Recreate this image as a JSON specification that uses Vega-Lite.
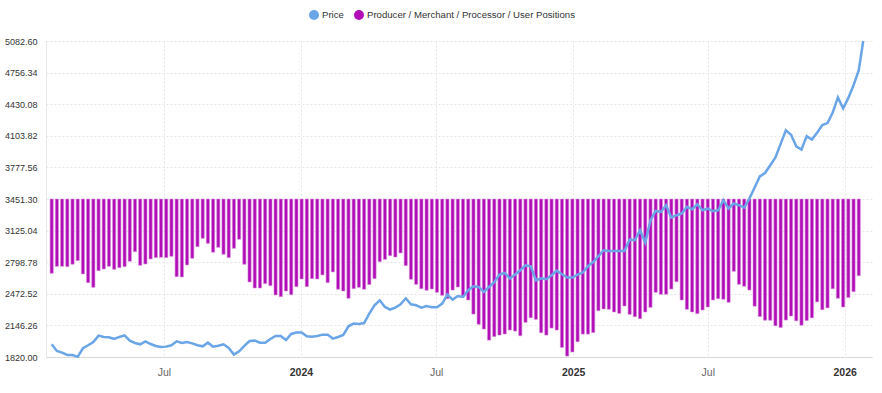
{
  "$schema": "https://vega.github.io/schema/vega-lite/v6.json",
  "width": 826,
  "height": 316,
  "autosize": "none",
  "padding": {"left": 46, "top": 41, "right": 10, "bottom": 36},
  "background": "white",
  "config": {
    "font": "Liberation Sans",
    "view": {"stroke": null}
  },
  "datasets": {
    "cot": [
      {"date": "2023-01-31", "net": -767}, {"date": "2023-02-07", "net": -695}, {"date": "2023-02-14", "net": -695}, {"date": "2023-02-21", "net": -698},
      {"date": "2023-02-28", "net": -674}, {"date": "2023-03-07", "net": -636}, {"date": "2023-03-14", "net": -774}, {"date": "2023-03-21", "net": -864},
      {"date": "2023-03-28", "net": -912}, {"date": "2023-04-04", "net": -740}, {"date": "2023-04-11", "net": -723}, {"date": "2023-04-18", "net": -695},
      {"date": "2023-04-25", "net": -726}, {"date": "2023-05-02", "net": -709}, {"date": "2023-05-09", "net": -698}, {"date": "2023-05-16", "net": -643},
      {"date": "2023-05-23", "net": -544}, {"date": "2023-05-30", "net": -685}, {"date": "2023-06-06", "net": -671}, {"date": "2023-06-13", "net": -619},
      {"date": "2023-06-20", "net": -605}, {"date": "2023-06-27", "net": -602}, {"date": "2023-07-04", "net": -605}, {"date": "2023-07-11", "net": -592},
      {"date": "2023-07-18", "net": -802}, {"date": "2023-07-25", "net": -805}, {"date": "2023-08-01", "net": -681}, {"date": "2023-08-08", "net": -612},
      {"date": "2023-08-15", "net": -492}, {"date": "2023-08-22", "net": -406}, {"date": "2023-08-29", "net": -458}, {"date": "2023-09-05", "net": -550},
      {"date": "2023-09-12", "net": -499}, {"date": "2023-09-19", "net": -571}, {"date": "2023-09-26", "net": -605}, {"date": "2023-10-03", "net": -509},
      {"date": "2023-10-10", "net": -416}, {"date": "2023-10-17", "net": -674}, {"date": "2023-10-24", "net": -857}, {"date": "2023-10-31", "net": -919},
      {"date": "2023-11-07", "net": -919}, {"date": "2023-11-14", "net": -874}, {"date": "2023-11-21", "net": -895}, {"date": "2023-11-28", "net": -991},
      {"date": "2023-12-05", "net": -1008}, {"date": "2023-12-12", "net": -950}, {"date": "2023-12-19", "net": -988}, {"date": "2023-12-26", "net": -905},
      {"date": "2024-01-02", "net": -826}, {"date": "2024-01-09", "net": -905}, {"date": "2024-01-16", "net": -822}, {"date": "2024-01-23", "net": -826},
      {"date": "2024-01-30", "net": -784}, {"date": "2024-02-06", "net": -864}, {"date": "2024-02-13", "net": -753}, {"date": "2024-02-20", "net": -932},
      {"date": "2024-02-27", "net": -950}, {"date": "2024-03-05", "net": -1025}, {"date": "2024-03-12", "net": -926}, {"date": "2024-03-19", "net": -912},
      {"date": "2024-03-26", "net": -932}, {"date": "2024-04-02", "net": -884}, {"date": "2024-04-09", "net": -822}, {"date": "2024-04-16", "net": -647},
      {"date": "2024-04-23", "net": -623}, {"date": "2024-04-30", "net": -585}, {"date": "2024-05-07", "net": -599}, {"date": "2024-05-14", "net": -557},
      {"date": "2024-05-21", "net": -688}, {"date": "2024-05-28", "net": -829}, {"date": "2024-06-04", "net": -881}, {"date": "2024-06-11", "net": -926},
      {"date": "2024-06-18", "net": -943}, {"date": "2024-06-25", "net": -929}, {"date": "2024-07-02", "net": -964}, {"date": "2024-07-09", "net": -995},
      {"date": "2024-07-16", "net": -1029}, {"date": "2024-07-23", "net": -940}, {"date": "2024-07-30", "net": -909}, {"date": "2024-08-06", "net": -1002},
      {"date": "2024-08-13", "net": -1043}, {"date": "2024-08-20", "net": -1188}, {"date": "2024-08-27", "net": -1294}, {"date": "2024-09-03", "net": -1343},
      {"date": "2024-09-10", "net": -1457}, {"date": "2024-09-17", "net": -1420}, {"date": "2024-09-24", "net": -1405}, {"date": "2024-10-01", "net": -1394},
      {"date": "2024-10-08", "net": -1353}, {"date": "2024-10-15", "net": -1364}, {"date": "2024-10-22", "net": -1412}, {"date": "2024-10-29", "net": -1274},
      {"date": "2024-11-05", "net": -1226}, {"date": "2024-11-12", "net": -1243}, {"date": "2024-11-19", "net": -1381}, {"date": "2024-11-26", "net": -1405},
      {"date": "2024-12-03", "net": -1333}, {"date": "2024-12-10", "net": -1353}, {"date": "2024-12-17", "net": -1532}, {"date": "2024-12-24", "net": -1622},
      {"date": "2024-12-31", "net": -1580}, {"date": "2025-01-07", "net": -1474}, {"date": "2025-01-14", "net": -1395}, {"date": "2025-01-21", "net": -1395},
      {"date": "2025-01-28", "net": -1379}, {"date": "2025-02-04", "net": -1153}, {"date": "2025-02-11", "net": -1136}, {"date": "2025-02-18", "net": -1139},
      {"date": "2025-02-25", "net": -1167}, {"date": "2025-03-04", "net": -1181}, {"date": "2025-03-11", "net": -1105}, {"date": "2025-03-18", "net": -1191},
      {"date": "2025-03-25", "net": -1215}, {"date": "2025-04-01", "net": -1236}, {"date": "2025-04-08", "net": -1167}, {"date": "2025-04-15", "net": -1119},
      {"date": "2025-04-22", "net": -964}, {"date": "2025-04-29", "net": -984}, {"date": "2025-05-06", "net": -984}, {"date": "2025-05-13", "net": -930},
      {"date": "2025-05-20", "net": -854}, {"date": "2025-05-27", "net": -1043}, {"date": "2025-06-03", "net": -1139}, {"date": "2025-06-10", "net": -1167},
      {"date": "2025-06-17", "net": -1184}, {"date": "2025-06-24", "net": -1146}, {"date": "2025-07-01", "net": -1115}, {"date": "2025-07-08", "net": -1043},
      {"date": "2025-07-15", "net": -1029}, {"date": "2025-07-22", "net": -1036}, {"date": "2025-07-29", "net": -1067}, {"date": "2025-08-05", "net": -747},
      {"date": "2025-08-12", "net": -881}, {"date": "2025-08-19", "net": -901}, {"date": "2025-08-26", "net": -940}, {"date": "2025-09-02", "net": -1107},
      {"date": "2025-09-09", "net": -1213}, {"date": "2025-09-16", "net": -1252}, {"date": "2025-09-23", "net": -1252}, {"date": "2025-09-30", "net": -1309},
      {"date": "2025-10-07", "net": -1327}, {"date": "2025-10-14", "net": -1250}, {"date": "2025-10-21", "net": -1208}, {"date": "2025-10-28", "net": -1258},
      {"date": "2025-11-04", "net": -1304}, {"date": "2025-11-11", "net": -1255}, {"date": "2025-11-18", "net": -1227}, {"date": "2025-11-25", "net": -1062},
      {"date": "2025-12-02", "net": -1143}, {"date": "2025-12-09", "net": -1124}, {"date": "2025-12-16", "net": -927}, {"date": "2025-12-23", "net": -1025},
      {"date": "2025-12-30", "net": -1115}, {"date": "2026-01-06", "net": -1017}, {"date": "2026-01-13", "net": -957}, {"date": "2026-01-20", "net": -792}
    ],
    "price": [
      {"date": "2023-01-31", "price": 1951}, {"date": "2023-02-07", "price": 1882}, {"date": "2023-02-14", "price": 1865}, {"date": "2023-02-21", "price": 1841},
      {"date": "2023-02-28", "price": 1841}, {"date": "2023-03-07", "price": 1822}, {"date": "2023-03-14", "price": 1910}, {"date": "2023-03-21", "price": 1941},
      {"date": "2023-03-28", "price": 1975}, {"date": "2023-04-04", "price": 2041}, {"date": "2023-04-11", "price": 2027}, {"date": "2023-04-18", "price": 2024},
      {"date": "2023-04-25", "price": 2006}, {"date": "2023-05-02", "price": 2027}, {"date": "2023-05-09", "price": 2044}, {"date": "2023-05-16", "price": 1989},
      {"date": "2023-05-23", "price": 1965}, {"date": "2023-05-30", "price": 1951}, {"date": "2023-06-06", "price": 1982}, {"date": "2023-06-13", "price": 1954},
      {"date": "2023-06-20", "price": 1934}, {"date": "2023-06-27", "price": 1923}, {"date": "2023-07-04", "price": 1927}, {"date": "2023-07-11", "price": 1941},
      {"date": "2023-07-18", "price": 1982}, {"date": "2023-07-25", "price": 1965}, {"date": "2023-08-01", "price": 1975}, {"date": "2023-08-08", "price": 1961},
      {"date": "2023-08-15", "price": 1941}, {"date": "2023-08-22", "price": 1930}, {"date": "2023-08-29", "price": 1968}, {"date": "2023-09-05", "price": 1927},
      {"date": "2023-09-12", "price": 1937}, {"date": "2023-09-19", "price": 1951}, {"date": "2023-09-26", "price": 1913}, {"date": "2023-10-03", "price": 1845},
      {"date": "2023-10-10", "price": 1879}, {"date": "2023-10-17", "price": 1934}, {"date": "2023-10-24", "price": 1985}, {"date": "2023-10-31", "price": 1989},
      {"date": "2023-11-07", "price": 1968}, {"date": "2023-11-14", "price": 1968}, {"date": "2023-11-21", "price": 2006}, {"date": "2023-11-28", "price": 2037},
      {"date": "2023-12-05", "price": 2037}, {"date": "2023-12-12", "price": 1996}, {"date": "2023-12-19", "price": 2058}, {"date": "2023-12-26", "price": 2072},
      {"date": "2024-01-02", "price": 2072}, {"date": "2024-01-09", "price": 2034}, {"date": "2024-01-16", "price": 2030}, {"date": "2024-01-23", "price": 2037},
      {"date": "2024-01-30", "price": 2051}, {"date": "2024-02-06", "price": 2051}, {"date": "2024-02-13", "price": 2010}, {"date": "2024-02-20", "price": 2027},
      {"date": "2024-02-27", "price": 2047}, {"date": "2024-03-05", "price": 2137}, {"date": "2024-03-12", "price": 2165}, {"date": "2024-03-19", "price": 2161},
      {"date": "2024-03-26", "price": 2171}, {"date": "2024-04-02", "price": 2268}, {"date": "2024-04-09", "price": 2354}, {"date": "2024-04-16", "price": 2406},
      {"date": "2024-04-23", "price": 2337}, {"date": "2024-04-30", "price": 2310}, {"date": "2024-05-07", "price": 2330}, {"date": "2024-05-14", "price": 2364},
      {"date": "2024-05-21", "price": 2426}, {"date": "2024-05-28", "price": 2364}, {"date": "2024-06-04", "price": 2354}, {"date": "2024-06-11", "price": 2330},
      {"date": "2024-06-18", "price": 2347}, {"date": "2024-06-25", "price": 2334}, {"date": "2024-07-02", "price": 2334}, {"date": "2024-07-09", "price": 2371},
      {"date": "2024-07-16", "price": 2465}, {"date": "2024-07-23", "price": 2413}, {"date": "2024-07-30", "price": 2450}, {"date": "2024-08-06", "price": 2440},
      {"date": "2024-08-13", "price": 2509}, {"date": "2024-08-20", "price": 2550}, {"date": "2024-08-27", "price": 2543}, {"date": "2024-09-03", "price": 2491},
      {"date": "2024-09-10", "price": 2543}, {"date": "2024-09-17", "price": 2592}, {"date": "2024-09-24", "price": 2671}, {"date": "2024-10-01", "price": 2688},
      {"date": "2024-10-08", "price": 2630}, {"date": "2024-10-15", "price": 2671}, {"date": "2024-10-22", "price": 2716}, {"date": "2024-10-29", "price": 2767},
      {"date": "2024-11-05", "price": 2757}, {"date": "2024-11-12", "price": 2612}, {"date": "2024-11-19", "price": 2633}, {"date": "2024-11-26", "price": 2623},
      {"date": "2024-12-03", "price": 2664}, {"date": "2024-12-10", "price": 2712}, {"date": "2024-12-17", "price": 2674}, {"date": "2024-12-24", "price": 2640},
      {"date": "2024-12-31", "price": 2640}, {"date": "2025-01-07", "price": 2671}, {"date": "2025-01-14", "price": 2692}, {"date": "2025-01-21", "price": 2757},
      {"date": "2025-01-28", "price": 2801}, {"date": "2025-02-04", "price": 2860}, {"date": "2025-02-11", "price": 2922}, {"date": "2025-02-18", "price": 2915},
      {"date": "2025-02-25", "price": 2915}, {"date": "2025-03-04", "price": 2915}, {"date": "2025-03-11", "price": 2915}, {"date": "2025-03-18", "price": 3033},
      {"date": "2025-03-25", "price": 3026}, {"date": "2025-04-01", "price": 3129}, {"date": "2025-04-08", "price": 3002}, {"date": "2025-04-15", "price": 3232},
      {"date": "2025-04-22", "price": 3328}, {"date": "2025-04-29", "price": 3318}, {"date": "2025-05-06", "price": 3387}, {"date": "2025-05-13", "price": 3260},
      {"date": "2025-05-20", "price": 3284}, {"date": "2025-05-27", "price": 3301}, {"date": "2025-06-03", "price": 3370}, {"date": "2025-06-10", "price": 3346},
      {"date": "2025-06-17", "price": 3397}, {"date": "2025-06-24", "price": 3335}, {"date": "2025-07-01", "price": 3353}, {"date": "2025-07-08", "price": 3325},
      {"date": "2025-07-15", "price": 3335}, {"date": "2025-07-22", "price": 3439}, {"date": "2025-07-29", "price": 3353}, {"date": "2025-08-05", "price": 3405},
      {"date": "2025-08-12", "price": 3387}, {"date": "2025-08-19", "price": 3363}, {"date": "2025-08-26", "price": 3456}, {"date": "2025-09-02", "price": 3570},
      {"date": "2025-09-09", "price": 3685}, {"date": "2025-09-16", "price": 3720}, {"date": "2025-09-23", "price": 3800}, {"date": "2025-09-30", "price": 3880},
      {"date": "2025-10-07", "price": 4020}, {"date": "2025-10-14", "price": 4160}, {"date": "2025-10-21", "price": 4115}, {"date": "2025-10-28", "price": 3995},
      {"date": "2025-11-04", "price": 3962}, {"date": "2025-11-11", "price": 4100}, {"date": "2025-11-18", "price": 4065}, {"date": "2025-11-25", "price": 4135},
      {"date": "2025-12-02", "price": 4215}, {"date": "2025-12-09", "price": 4235}, {"date": "2025-12-16", "price": 4345}, {"date": "2025-12-23", "price": 4500},
      {"date": "2025-12-30", "price": 4386}, {"date": "2026-01-06", "price": 4495}, {"date": "2026-01-13", "price": 4625}, {"date": "2026-01-20", "price": 4782},
      {"date": "2026-01-26", "price": 5082.6}
    ]
  },
  "layer": [
    {
      "data": {"name": "cot"},
      "mark": {"type": "bar", "size": 3.2, "stroke": "#d98ddb", "strokeWidth": 0.6},
      "encoding": {
        "x": {
          "field": "date", "type": "temporal",
          "scale": {"type": "utc", "domain": [{"year": 2023, "month": 1, "date": 30, "hours": 2, "utc": true}, {"year": 2026, "month": 1, "date": 31, "hours": 2, "utc": true}]},
          "axis": {
            "title": null,
            "values": [
              {"year": 2023, "month": 7, "date": 1, "utc": true},
              {"year": 2024, "month": 1, "date": 1, "utc": true},
              {"year": 2024, "month": 7, "date": 1, "utc": true},
              {"year": 2025, "month": 1, "date": 1, "utc": true},
              {"year": 2025, "month": 7, "date": 1, "utc": true},
              {"year": 2026, "month": 1, "date": 1, "utc": true}
            ],
            "labelExpr": "utcmonth(datum.value) == 0 ? utcFormat(datum.value, '%Y') : 'Jul'",
            "labelFontWeight": {"condition": {"test": "utcmonth(datum.value) == 0", "value": "bold"}, "value": "normal"},
            "labelColor": {"condition": {"test": "utcmonth(datum.value) == 0", "value": "#333333"}, "value": "#666666"},
            "labelFontSize": 10.5,
            "labelPadding": 10,
            "ticks": false,
            "grid": true,
            "gridColor": "#e6e6e6",
            "gridDash": [2, 2],
            "domainColor": "#d8d8d8",
            "labelFlush": false
          }
        },
        "y": {
          "field": "net", "type": "quantitative",
          "scale": {"domain": [-1631.3, 1631.3], "nice": false, "zero": true},
          "axis": null
        },
        "color": {
          "datum": "Producer / Merchant / Processor / User Positions",
          "scale": {"domain": ["Price", "Producer / Merchant / Processor / User Positions"], "range": ["#6aa5e7", "#b10cb7"]},
          "legend": {
            "title": null,
            "orient": "none",
            "legendX": 263,
            "legendY": -31,
            "direction": "horizontal",
            "symbolType": "circle",
            "symbolSize": 100,
            "symbolStrokeWidth": 0,
            "labelFontSize": 9.6,
            "labelLimit": 0,
            "labelColor": "#333333",
            "labelOffset": 3,
            "columnPadding": 10,
            "padding": 0
          }
        }
      }
    },
    {
      "data": {"name": "price"},
      "mark": {"type": "line", "strokeWidth": 2.5, "interpolate": "linear"},
      "encoding": {
        "x": {"field": "date", "type": "temporal"},
        "y": {
          "field": "price", "type": "quantitative",
          "scale": {"domain": [1820, 5082.6], "nice": false, "zero": false},
          "axis": {
            "title": null,
            "values": [1820, 2146.26, 2472.52, 2798.78, 3125.04, 3451.3, 3777.56, 4103.82, 4430.08, 4756.34, 5082.6],
            "format": ".2f",
            "labelFontSize": 9,
            "labelColor": "#333333",
            "labelPadding": 9,
            "ticks": false,
            "grid": true,
            "gridColor": "#e6e6e6",
            "gridDash": [2, 2],
            "domainColor": "#e6e6e6"
          }
        },
        "color": {"datum": "Price"}
      }
    }
  ],
  "resolve": {"scale": {"y": "independent"}}
}
